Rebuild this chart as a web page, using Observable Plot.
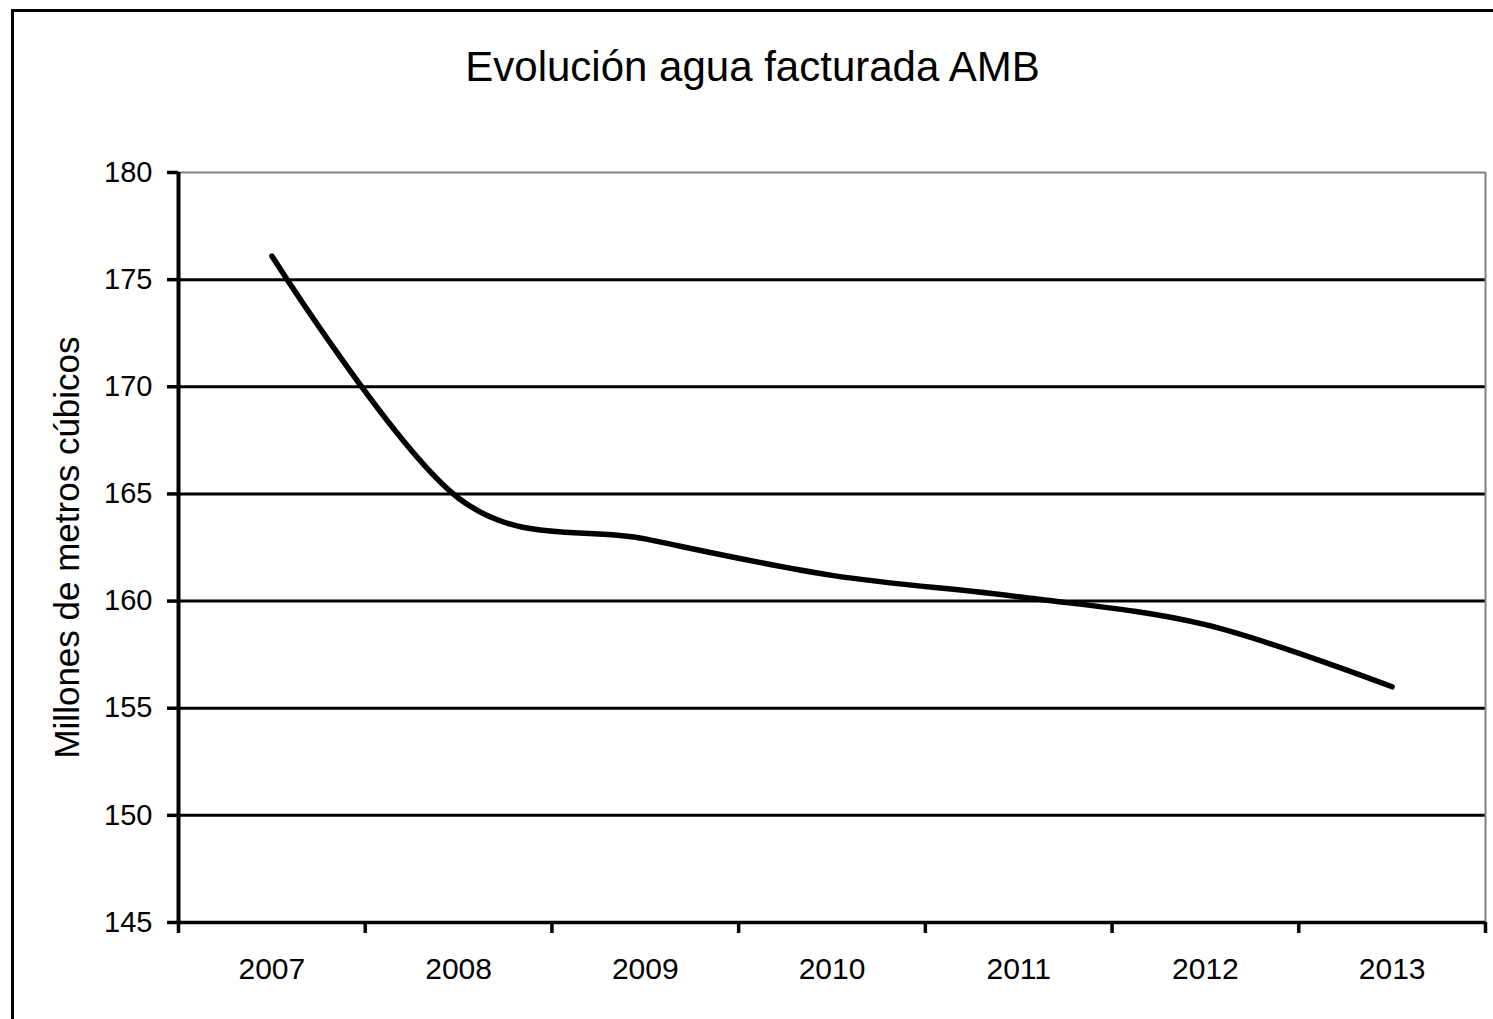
<!DOCTYPE html>
<html>
<head>
<meta charset="utf-8">
<script src="https://cdn.jsdelivr.net/npm/d3@7"></script>
<script src="https://cdn.jsdelivr.net/npm/@observablehq/plot@0.6"></script>
<style>
  html, body { margin: 0; padding: 0; background: #fff; overflow: hidden; }
  #wrap { position: relative; width: 1493px; height: 1019px; }
  #frame { position: absolute; left: 11px; top: 9px; width: 1600px; height: 1200px;
           border-left: 3px solid #000; border-top: 3px solid #000; box-sizing: border-box; }
  #chart { position: absolute; left: 0; top: 0; }
</style>
</head>
<body>
<div id="wrap"><div id="frame"></div><div id="chart"></div></div>
<script>
// ---- data ----
const title = "Evolución agua facturada AMB";
const yLabel = "Millones de metros cúbicos";
const years = [2007, 2008, 2009, 2010, 2011, 2012, 2013];
const values = [176.1, 164.8, 162.9, 161.2, 160.2, 158.9, 156.0];
const yTicks = [145, 150, 155, 160, 165, 170, 175, 180];

const data = years.map((year, i) => ({year, value: values[i]}));
const xMin = years[0] - 0.5;
const xMax = years[years.length - 1] + 0.5;
const boundaries = [...years.map(y => y - 0.5), xMax];
const yMin = yTicks[0], yMax = yTicks[yTicks.length - 1];
const gridValues = yTicks.slice(1, -1);

const font = "'Liberation Sans', Arial, Helvetica, sans-serif";

const chart = Plot.plot({
  width: 1493,
  height: 1019,
  marginLeft: 178,
  marginRight: 8,
  marginTop: 172,
  marginBottom: 97,
  style: {fontFamily: font, background: "transparent", color: "#000"},
  x: {type: "linear", domain: [xMin, xMax], axis: null},
  y: {domain: [yMin, yMax], axis: null},
  marks: [
    Plot.ruleY(gridValues, {stroke: "#000", strokeWidth: 3}),
    Plot.ruleY([yMax], {stroke: "#808080", strokeWidth: 2}),
    Plot.ruleX([xMax], {stroke: "#808080", strokeWidth: 2}),
    Plot.line(data, {
      x: "year", y: "value",
      curve: d3.curveCatmullRom.alpha(0),
      stroke: "#000", strokeWidth: 5.5, strokeLinejoin: "round"
    }),
    Plot.ruleX([xMin], {stroke: "#000", strokeWidth: 4}),
    Plot.ruleY([yMin], {stroke: "#000", strokeWidth: 3.5}),
    Plot.axisY({
      ticks: yTicks, tickSize: 11, tickPadding: 15, fontSize: 29,
      strokeWidth: 3.5, color: "#000", label: null, tickFormat: d => String(d)
    }),
    Plot.axisX({
      ticks: years, tickSize: 0, tickPadding: 35, fontSize: 30,
      color: "#000", label: null, tickFormat: d => String(d)
    }),
    Plot.axisX({
      ticks: boundaries, tickSize: 11, strokeWidth: 3.5,
      color: "#000", label: null, tickFormat: () => ""
    }),
    Plot.text([title], {
      text: d => d, frameAnchor: "top", lineAnchor: "middle", textAnchor: "middle",
      dx: -79.5, dy: -105.1, fontSize: 42, fill: "#000"
    }),
    Plot.text([yLabel], {
      text: d => d, frameAnchor: "left", lineAnchor: "middle", textAnchor: "middle",
      dx: -111, rotate: -90, fontSize: 35, fill: "#000"
    })
  ]
});
document.getElementById("chart").appendChild(chart);
</script>
</body>
</html>
